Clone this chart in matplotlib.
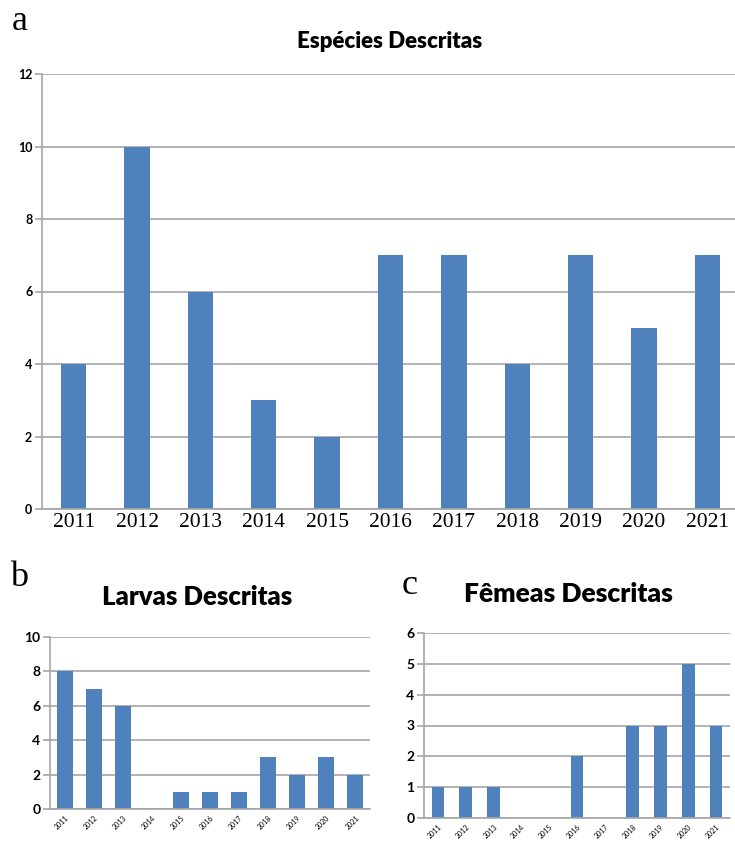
import matplotlib.pyplot as plt
import numpy as np

years = ["2011", "2012", "2013", "2014", "2015", "2016",
         "2017", "2018", "2019", "2020", "2021"]
especies = [4, 10, 6, 3, 2, 7, 7, 4, 7, 5, 7]
larvas = [8, 7, 6, 0, 1, 1, 1, 3, 2, 3, 2]
femeas = [1, 1, 1, 0, 0, 2, 0, 3, 3, 5, 3]

BLUE = "#4F81BD"
GRID = "#A6A6A6"
SANS = "Lato"
SERIF = "Liberation Serif"


def style_axes(ax, ymax, ystep, ytick_size):
    ax.set_ylim(0, ymax)
    ax.set_xlim(-0.5, len(years) - 0.5)
    ax.set_yticks(np.arange(0, ymax + 0.01, ystep))
    ax.yaxis.grid(True, color=GRID, linewidth=1.2)
    ax.set_axisbelow(True)
    for s in ["top", "right"]:
        ax.spines[s].set_visible(False)
    for s in ["left", "bottom"]:
        ax.spines[s].set_color(GRID)
        ax.spines[s].set_linewidth(1.2)
    ax.tick_params(axis="y", color=GRID, length=5, width=1.2,
                   labelsize=ytick_size, pad=2)
    ax.tick_params(axis="x", length=0)
    for lab in ax.get_yticklabels():
        lab.set_fontfamily(SANS)
        lab.set_fontweight("bold")


fig = plt.figure(figsize=(7.35, 8.41), dpi=100)
W, H = 735, 841


def add_ax(left, top, right, bottom):
    return fig.add_axes([left / W, 1 - bottom / H, (right - left) / W, (bottom - top) / H])


x = np.arange(len(years))

# panel a
ax = add_ax(42, 74, 739, 509)
ax.bar(x, especies, width=0.4, color=BLUE)
style_axes(ax, 12, 2, 9)
ax.set_xticks(x)
ax.set_xticklabels(years, fontfamily=SERIF, fontsize=15.5)
ax.tick_params(axis="x", pad=3)
fig.text(390 / W, 1 - 42 / H, "Espécies Descritas", ha="center", va="center",
         fontfamily=SANS, fontweight="heavy", fontsize=16)
fig.text(12 / W, 1 - 22 / H, "a", ha="left", va="center",
         fontfamily=SERIF, fontsize=26)

# panel b
ax = add_ax(50, 637, 370, 809)
ax.bar(x, larvas, width=0.55, color=BLUE)
style_axes(ax, 10, 2, 10)
ax.set_xticks(x)
ax.set_xticklabels(years, fontfamily=SANS, fontsize=5, rotation=45,
                   ha="right", rotation_mode="anchor")
ax.tick_params(axis="x", pad=4)
fig.text(197 / W, 1 - 597 / H, "Larvas Descritas", ha="center", va="center",
         fontfamily=SANS, fontweight="heavy", fontsize=18.5)
fig.text(10 / W, 1 - 578 / H, "b", ha="left", va="center",
         fontfamily=SERIF, fontsize=26)

# panel c
ax = add_ax(424, 633, 730, 818)
ax.bar(x, femeas, width=0.45, color=BLUE)
style_axes(ax, 6, 1, 10)
ax.set_xticks(x)
ax.set_xticklabels(years, fontfamily=SANS, fontsize=5, rotation=45,
                   ha="right", rotation_mode="anchor")
ax.tick_params(axis="x", pad=4)
fig.text(568 / W, 1 - 594 / H, "Fêmeas Descritas", ha="center", va="center",
         fontfamily=SANS, fontweight="heavy", fontsize=19)
fig.text(402 / W, 1 - 586 / H, "c", ha="left", va="center",
         fontfamily=SERIF, fontsize=26)

fig.savefig("out.png", dpi=100)
